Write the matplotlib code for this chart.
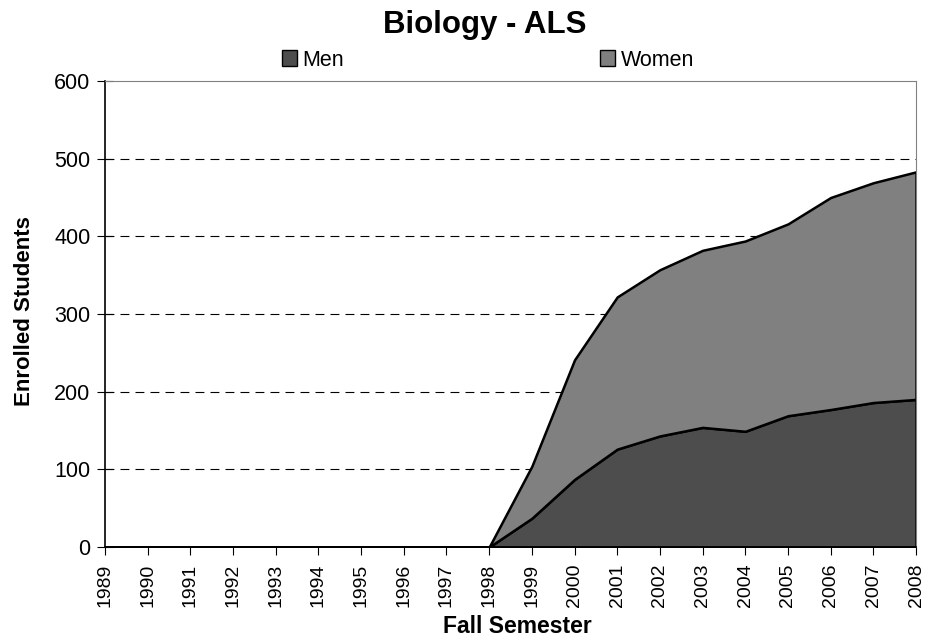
import matplotlib.pyplot as plt
from matplotlib.patches import Patch

years = list(range(1989, 2009))
men = [0, 0, 0, 0, 0, 0, 0, 0, 0, 0, 37, 87, 126, 143, 154, 149, 169, 177, 186, 190]
women = [0, 0, 0, 0, 0, 0, 0, 0, 0, 0, 67, 154, 196, 214, 228, 245, 247, 273, 283, 293]

men_color = '#4d4d4d'
women_color = '#808080'

plt.rcParams['font.family'] = ['Liberation Sans', 'DejaVu Sans']

fig = plt.figure(figsize=(9.4, 6.38), dpi=100)
ax = fig.add_axes([105 / 940, 91 / 638, 811 / 940, 466 / 638])

x = list(range(len(years)))
ax.stackplot(x, men, women, colors=[men_color, women_color],
             edgecolor='black', linewidth=1.8)

ax.set_xlim(0, len(years) - 1)
ax.set_ylim(0, 600)
ax.set_yticks(range(0, 601, 100))
ax.set_xticks(x)
ax.set_xticklabels([str(y) for y in years], rotation=90, fontsize=14)
ax.tick_params(axis='y', labelsize=15.5, direction='inout', length=11, pad=5)
ax.tick_params(axis='x', direction='out', length=6, pad=6)

# dashed grid lines
for v in range(100, 600, 100):
    ax.axhline(v, color='black', linestyle=(0, (8, 5.5)), linewidth=0.8, zorder=0)

for side in ['top', 'right']:
    ax.spines[side].set_color('#808080')
for side in ['left', 'bottom']:
    ax.spines[side].set_color('black')
    ax.spines[side].set_linewidth(1.2)

fig.text(517 / 940, 1 - 633 / 638, 'Fall Semester', ha='center', va='baseline',
         fontsize=16.5, fontweight='bold')
fig.text(25 / 940, 1 - 311 / 638, 'Enrolled Students', ha='center', va='center',
         rotation=90, fontsize=16, fontweight='bold')
fig.text(485 / 940, 1 - 33 / 638, 'Biology - ALS', ha='center', va='baseline',
         fontsize=22.5, fontweight='bold')

handles = [Patch(facecolor=men_color, edgecolor='black', label='Men'),
           Patch(facecolor=women_color, edgecolor='black', label='Women')]
fig.legend(handles=handles, loc='center left', bbox_to_anchor=(282 / 940, 1 - 60 / 638),
           ncol=2, frameon=False, fontsize=15.5, handlelength=0.7, handleheight=0.7,
           handletextpad=0.25, columnspacing=11.9, borderpad=0, borderaxespad=0)

fig.savefig('out.png', dpi=100)
